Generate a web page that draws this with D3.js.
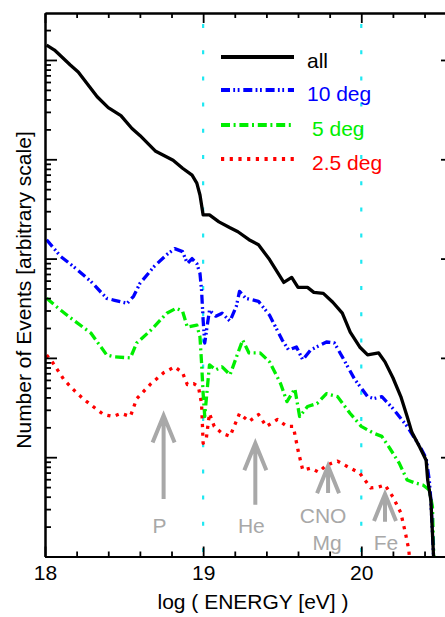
<!DOCTYPE html>
<html>
<head>
<meta charset="utf-8">
<script src="https://cdn.jsdelivr.net/npm/d3@7"></script>
<style>
	body { margin: 0; background: #fff; }
	svg { display: block; font-family: "Liberation Sans", Arial, Helvetica, sans-serif; }
</style>
</head>
<body>
<div id="chart"></div>
<script>
// log10(energy/eV) and log10(events, arbitrary units)
var allE = [18.01, 18.06, 18.16, 18.21, 18.33, 18.40, 18.48, 18.55, 18.60, 18.65, 18.70, 18.81, 18.87, 18.93, 18.96, 18.98, 19.00, 19.04, 19.10, 19.17, 19.22, 19.29, 19.35, 19.42, 19.51, 19.56, 19.60, 19.66, 19.70, 19.76, 19.82, 19.88, 19.93, 19.99, 20.04, 20.11, 20.15, 20.20, 20.25, 20.29, 20.32, 20.37, 20.41, 20.42, 20.44, 20.46];
var allN = [5.15, 5.10, 4.95, 4.88, 4.63, 4.52, 4.44, 4.31, 4.24, 4.16, 4.08, 3.99, 3.91, 3.84, 3.76, 3.64, 3.44, 3.44, 3.37, 3.31, 3.27, 3.19, 3.14, 2.99, 2.76, 2.81, 2.71, 2.71, 2.66, 2.65, 2.56, 2.45, 2.26, 2.11, 2.03, 2.05, 1.96, 1.80, 1.61, 1.41, 1.25, 1.10, 0.97, 0.77, 0.57, -0.1];

var deg10E = [18.01, 18.10, 18.18, 18.29, 18.39, 18.44, 18.52, 18.56, 18.60, 18.69, 18.77, 18.82, 18.87, 18.90, 18.93, 18.96, 18.98, 18.99, 19.00, 19.01, 19.04, 19.08, 19.12, 19.17, 19.21, 19.23, 19.27, 19.35, 19.42, 19.50, 19.54, 19.59, 19.63, 19.68, 19.78, 19.83, 19.88, 19.96, 20.04, 20.08, 20.13, 20.20, 20.29, 20.37, 20.41, 20.43, 20.44, 20.46];
var deg10N = [3.19, 3.02, 2.92, 2.77, 2.60, 2.58, 2.55, 2.62, 2.75, 2.92, 3.04, 3.10, 3.07, 2.95, 3.00, 2.95, 2.85, 2.68, 2.38, 2.15, 2.48, 2.42, 2.45, 2.37, 2.52, 2.67, 2.60, 2.57, 2.43, 2.18, 2.08, 2.11, 1.98, 2.08, 2.16, 2.15, 2.01, 1.78, 1.61, 1.59, 1.61, 1.49, 1.31, 1.11, 0.99, 0.77, 0.57, -0.1];

var deg5E = [18.01, 18.10, 18.18, 18.29, 18.39, 18.44, 18.54, 18.58, 18.67, 18.77, 18.83, 18.87, 18.90, 18.96, 18.98, 18.99, 19.00, 19.01, 19.04, 19.08, 19.12, 19.17, 19.22, 19.25, 19.29, 19.36, 19.42, 19.49, 19.53, 19.58, 19.61, 19.66, 19.72, 19.78, 19.85, 19.93, 20.00, 20.08, 20.13, 20.18, 20.24, 20.29, 20.34, 20.39, 20.43, 20.45, 20.46];
var deg5N = [2.60, 2.48, 2.38, 2.25, 2.03, 2.01, 2.00, 2.15, 2.28, 2.45, 2.50, 2.47, 2.31, 2.33, 2.21, 1.95, 1.64, 1.41, 1.93, 1.88, 1.91, 1.83, 2.05, 2.18, 2.05, 2.05, 1.96, 1.74, 1.56, 1.69, 1.41, 1.51, 1.54, 1.64, 1.61, 1.44, 1.31, 1.24, 1.21, 1.09, 0.94, 0.77, 0.74, 0.72, 0.67, 0.50, -0.1];

var deg25E = [18.01, 18.05, 18.12, 18.18, 18.24, 18.32, 18.37, 18.43, 18.48, 18.54, 18.58, 18.67, 18.75, 18.82, 18.87, 18.90, 18.94, 18.97, 18.99, 19.00, 19.02, 19.04, 19.07, 19.12, 19.17, 19.23, 19.29, 19.35, 19.40, 19.47, 19.53, 19.57, 19.60, 19.63, 19.68, 19.73, 19.78, 19.85, 19.93, 19.99, 20.06, 20.11, 20.15, 20.20, 20.25, 20.28, 20.30, 20.31];
var deg25N = [2.03, 1.95, 1.78, 1.68, 1.59, 1.49, 1.43, 1.41, 1.44, 1.41, 1.59, 1.74, 1.85, 1.91, 1.85, 1.73, 1.74, 1.71, 1.54, 1.14, 1.19, 1.44, 1.31, 1.24, 1.21, 1.44, 1.36, 1.43, 1.31, 1.38, 1.31, 1.31, 1.07, 0.87, 0.89, 0.85, 0.92, 0.96, 0.89, 0.84, 0.69, 0.70, 0.72, 0.60, 0.44, 0.23, 0.07, -0.1];

var seriesNames = ["all", "10 deg", "5 deg", "2.5 deg"];
var xTickLabels = ["18", "19", "20"];

// composition markers: energy, arrow tip and tail (log10 events)
var markerNames = ["P", "He", "CNO", "Fe"];
var markerE = [18.75, 19.33, 19.79, 20.15];
var markerTip = [1.42, 1.14, 0.91, 0.63];
var markerTail = [0.58, 0.52, 0.64, 0.35];

(function() {
	'use strict';

	var W = 445, H = 617,
		left = 45, right = 453, top = 13, bottom = 556.5;

	var svg = d3.select("#chart").append("svg")
		.attr("width", W)
		.attr("height", H);

	var x = d3.scaleLinear().domain([18, 20.58]).range([left, right]),
		y = d3.scaleLog().domain([1, Math.pow(10, 5.473)]).range([bottom, top]);

	function py(v) { return y(Math.pow(10, v)); }

	svg.append("defs").append("clipPath").attr("id", "plot")
		.append("rect")
		.attr("x", left).attr("y", top)
		.attr("width", right - left).attr("height", bottom - top);

	// cyan guide lines at 10^19 and 10^20
	svg.selectAll(".guide")
		.data([19, 20])
		.enter().append("line")
		.attr("x1", function(d) { return x(d); })
		.attr("x2", function(d) { return x(d); })
		.attr("y1", top + 11)
		.attr("y2", bottom)
		.attr("stroke", "#1ee8f2")
		.attr("stroke-width", 2.2)
		.attr("stroke-dasharray", "4,22.2");

	var series = [
		{ e: allE, n: allN, color: "#000", dash: null },
		{ e: deg10E, n: deg10N, color: "#0000ff", dash: "9,3.3,1.8,2.6,1.8,3.8" },
		{ e: deg5E, n: deg5N, color: "#00ee00", dash: "9,3.6,2,3.8" },
		{ e: deg25E, n: deg25N, color: "#ff0000", dash: "3.2,5.5" }
	];

	var line = d3.line()
		.x(function(d) { return x(d[0]); })
		.y(function(d) { return py(d[1]); });

	var plot = svg.append("g").attr("clip-path", "url(#plot)");

	// draw from last to first so "all" sits on top
	series.slice().reverse().forEach(function(s) {
		plot.append("path")
			.datum(d3.zip(s.e, s.n))
			.attr("fill", "none")
			.attr("stroke", s.color)
			.attr("stroke-width", 3.3)
			.attr("stroke-linejoin", "round")
			.attr("stroke-dasharray", s.dash)
			.attr("d", line);
	});

	// axes: major and minor ticks, all pointing inward
	var xAll = x.ticks(13),
		xMajor = xAll.filter(function(d) { return Math.abs(d - Math.round(d)) < 1e-6; }),
		xMinor = xAll.filter(function(d) { return xMajor.indexOf(d) < 0; }),
		yAll = y.ticks(),
		yMajor = yAll.filter(function(d) { return Math.abs(Math.log10(d) - Math.round(Math.log10(d))) < 1e-6; }),
		yMinor = yAll.filter(function(d) { return yMajor.indexOf(d) < 0; });

	function styleAxis(g) {
		g.select(".domain").attr("stroke-width", 2);
		g.selectAll(".tick line").attr("stroke-width", 1.8);
	}

	svg.append("g")
		.attr("transform", "translate(0," + bottom + ")")
		.call(d3.axisBottom(x).tickValues(xMajor).tickSize(-10).tickSizeOuter(0).tickPadding(9)
			.tickFormat(function(d, i) { return xTickLabels[i]; }))
		.call(styleAxis)
		.call(function(g) {
			g.selectAll("text").attr("font-size", 21).attr("fill", "#000")
				.attr("font-family", "Liberation Sans, Arial, sans-serif");
		});
	svg.append("g")
		.attr("transform", "translate(0," + bottom + ")")
		.call(d3.axisBottom(x).tickValues(xMinor).tickSize(-5).tickSizeOuter(0).tickFormat(""))
		.call(styleAxis);

	svg.append("g")
		.attr("transform", "translate(0," + top + ")")
		.call(d3.axisTop(x).tickValues(xMajor).tickSize(-10).tickSizeOuter(0).tickFormat(""))
		.call(styleAxis);
	svg.append("g")
		.attr("transform", "translate(0," + top + ")")
		.call(d3.axisTop(x).tickValues(xMinor).tickSize(-5).tickSizeOuter(0).tickFormat(""))
		.call(styleAxis);

	[[left, d3.axisLeft], [right, d3.axisRight]].forEach(function(a) {
		svg.append("g")
			.attr("transform", "translate(" + a[0] + ",0)")
			.call(a[1](y).tickValues(yMajor).tickSize(-12).tickSizeOuter(0).tickFormat(""))
			.call(styleAxis);
		svg.append("g")
			.attr("transform", "translate(" + a[0] + ",0)")
			.call(a[1](y).tickValues(yMinor).tickSize(-6).tickSizeOuter(0).tickFormat(""))
			.call(styleAxis);
	});

	// axis titles
	svg.append("text")
		.attr("x", 253)
		.attr("y", 609)
		.attr("text-anchor", "middle")
		.attr("font-size", 21)
		.text("log ( ENERGY [eV] )");

	svg.append("text")
		.attr("transform", "translate(31,290) rotate(-90)")
		.attr("text-anchor", "middle")
		.attr("font-size", 21)
		.text("Number of Events [arbitrary scale]");

	// legend
	var legend = svg.append("g").attr("transform", "translate(221,57)");
	series.forEach(function(s, i) {
		var ly = [0, 33, 68, 102][i];
		legend.append("line")
			.attr("x1", 0).attr("x2", 73)
			.attr("y1", ly).attr("y2", ly)
			.attr("stroke", s.color)
			.attr("stroke-width", 3.8)
			.attr("stroke-dasharray", s.dash);
		legend.append("text")
			.attr("x", i < 2 ? 86 : 91)
			.attr("y", ly + 10.5)
			.attr("font-size", 21)
			.attr("fill", s.color)
			.text(seriesNames[i]);
	});

	// composition arrows
	var grey = "#a8a8a8";
	markerE.forEach(function(e, i) {
		var ax = x(e), tipY = py(markerTip[i]), tailY = py(markerTail[i]);
		svg.append("path")
			.attr("d", "M" + ax + "," + tailY + "V" + tipY +
				"M" + (ax - 11) + "," + (tipY + 27) + "L" + ax + "," + tipY + "L" + (ax + 11) + "," + (tipY + 27))
			.attr("fill", "none")
			.attr("stroke", grey)
			.attr("stroke-width", 4)
			.attr("stroke-linejoin", "miter");
	});

	var labelLines = [["P"], ["He"], ["CNO", "Mg"], ["Fe"]];
	var labelShift = [[-4], [-4], [-5, -1], [1]];
	var labelBase = [[533], [533], [523, 550], [550]];
	markerNames.forEach(function(name, i) {
		labelLines[i].forEach(function(t, j) {
			svg.append("text")
				.attr("x", x(markerE[i]) + labelShift[i][j])
				.attr("y", labelBase[i][j])
				.attr("text-anchor", "middle")
				.attr("font-size", 21)
				.attr("fill", grey)
				.text(t);
		});
	});
})();
</script>
</body>
</html>
